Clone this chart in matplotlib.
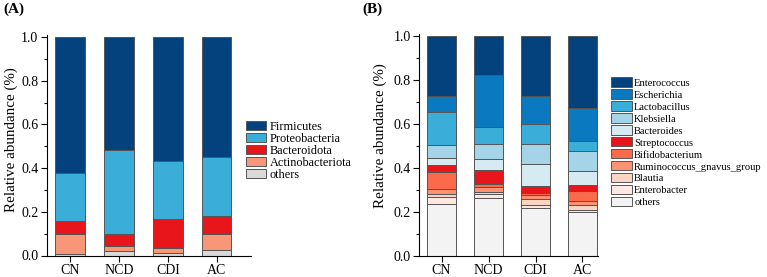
import numpy as np
import matplotlib
matplotlib.use("Agg")
import matplotlib.pyplot as plt
from matplotlib import font_manager
from matplotlib.ticker import MultipleLocator
from matplotlib.patches import Patch

# make sure a Times-like serif is used
serif_name = 'DejaVu Serif'
for f in font_manager.findSystemFonts():
    if 'LiberationSerif-Regular' in f or 'LiberationSerif-Bold' in f:
        font_manager.fontManager.addfont(f)
        serif_name = font_manager.FontProperties(fname=f).get_name()
plt.rcParams['font.family'] = [serif_name, 'DejaVu Serif']

groups = ['CN', 'NCD', 'CDI', 'AC']

# panel A - phylum level (bottom to top)
phyla = ['others', 'Actinobacteriota', 'Bacteroidota', 'Proteobacteria', 'Firmicutes']
phyla_colors = ['#d9d9d9', '#f8967a', '#e8151b', '#3aaed8', '#03427d']
others_a = [0.005, 0.020, 0.012, 0.025]
actino = [0.095, 0.023, 0.021, 0.073]
bactero = [0.060, 0.057, 0.132, 0.085]
proteo = [0.220, 0.385, 0.270, 0.269]
firmi = [0.620, 0.515, 0.565, 0.548]
phyla_vals = [others_a, actino, bactero, proteo, firmi]

# panel B - genus level (bottom to top)
genera = ['others', 'Enterobacter', 'Blautia', 'Ruminococcus_gnavus_group',
          'Bifidobacterium', 'Streptococcus', 'Bacteroides', 'Klebsiella',
          'Lactobacillus', 'Escherichia', 'Enterococcus']
genera_colors = ['#f3f3f3', '#fde9e1', '#fcd4c4', '#fc9271', '#fb6a4a', '#e8151b',
                 '#d6eaf2', '#a5d4e8', '#3aaed8', '#0b79bf', '#03427d']
others_b = [0.236, 0.264, 0.220, 0.200]
enterobacter = [0.031, 0.018, 0.012, 0.009]
blautia = [0.016, 0.007, 0.027, 0.021]
rumino = [0.023, 0.025, 0.017, 0.018]
bifido = [0.077, 0.015, 0.009, 0.049]
strepto = [0.032, 0.062, 0.032, 0.026]
bacteroides = [0.033, 0.048, 0.100, 0.062]
klebsiella = [0.058, 0.069, 0.091, 0.092]
lacto = [0.149, 0.081, 0.094, 0.044]
escherichia = [0.072, 0.235, 0.127, 0.150]
enterococcus = [0.273, 0.176, 0.271, 0.329]
genera_vals = [others_b, enterobacter, blautia, rumino, bifido, strepto,
               bacteroides, klebsiella, lacto, escherichia, enterococcus]

fig = plt.figure(figsize=(7.67, 2.77), dpi=100)
W, H = 767, 277


def stacked(ax, names, colors, vals, xmax, label_xy):
    x = np.arange(len(groups))
    bottom = np.zeros(len(groups))
    for name, c, v in zip(names, colors, vals):
        v = np.array(v)
        ax.bar(x, v, width=0.6, bottom=bottom, color=c, edgecolor='#555555',
               linewidth=0.7, label=name)
        bottom += v
    ax.set_xlim(-0.48, xmax)
    ax.set_ylim(0, 1.012)
    ax.set_xticks(x)
    ax.set_xticklabels(groups, fontsize=10)
    ax.set_yticks([0, 0.2, 0.4, 0.6, 0.8, 1.0])
    ax.set_yticklabels(['0.0', '0.2', '0.4', '0.6', '0.8', '1.0'], fontsize=10)
    ax.yaxis.set_minor_locator(MultipleLocator(0.1))
    ax.tick_params(axis='both', direction='out', length=4, width=0.8, pad=2)
    ax.tick_params(axis='y', which='minor', direction='out', length=2.5, width=0.8)
    ax.tick_params(axis='x', which='minor', bottom=False)
    for s in ['top', 'right']:
        ax.spines[s].set_visible(False)
    for s in ['left', 'bottom']:
        ax.spines[s].set_linewidth(0.8)
    ax.set_ylabel('Relative abundance (%)', fontsize=10.8)
    ax.yaxis.set_label_coords(*label_xy)


axA = fig.add_axes([46.7 / W, 1 - 255.5 / H, (251 - 46.7) / W, (255.5 - 34.5) / H])
stacked(axA, phyla, phyla_colors, phyla_vals, 3.7, (-0.14, 0.525))
hA = [Patch(facecolor=c, edgecolor='#555555', linewidth=0.7) for c in phyla_colors][::-1]
axA.legend(hA, phyla[::-1], loc='upper left', bbox_to_anchor=(246 / W, 1 - 120.5 / H),
           bbox_transform=fig.transFigure, frameon=False, fontsize=8.8,
           handlelength=1.65, handleheight=0.78, handletextpad=0.27,
           labelspacing=0.0, borderpad=0, borderaxespad=0)

axB = fig.add_axes([419 / W, 1 - 256 / H, (598 - 419) / W, (256 - 33.5) / H])
stacked(axB, genera, genera_colors, genera_vals, 3.33, (-0.179, 0.54))
hB = [Patch(facecolor=c, edgecolor='#555555', linewidth=0.7) for c in genera_colors][::-1]
axB.legend(hB, genera[::-1], loc='upper left', bbox_to_anchor=(611 / W, 1 - 77.5 / H),
           bbox_transform=fig.transFigure, frameon=False, fontsize=7.6,
           handlelength=2.0, handleheight=0.95, handletextpad=0.2,
           labelspacing=0.17, borderpad=0, borderaxespad=0)

fig.text(3 / W, 1 - 3 / H, '(A)', fontsize=11, fontweight='bold', va='top', ha='left')
fig.text(362 / W, 1 - 3 / H, '(B)', fontsize=11, fontweight='bold', va='top', ha='left')

fig.savefig('out.png', dpi=100)
